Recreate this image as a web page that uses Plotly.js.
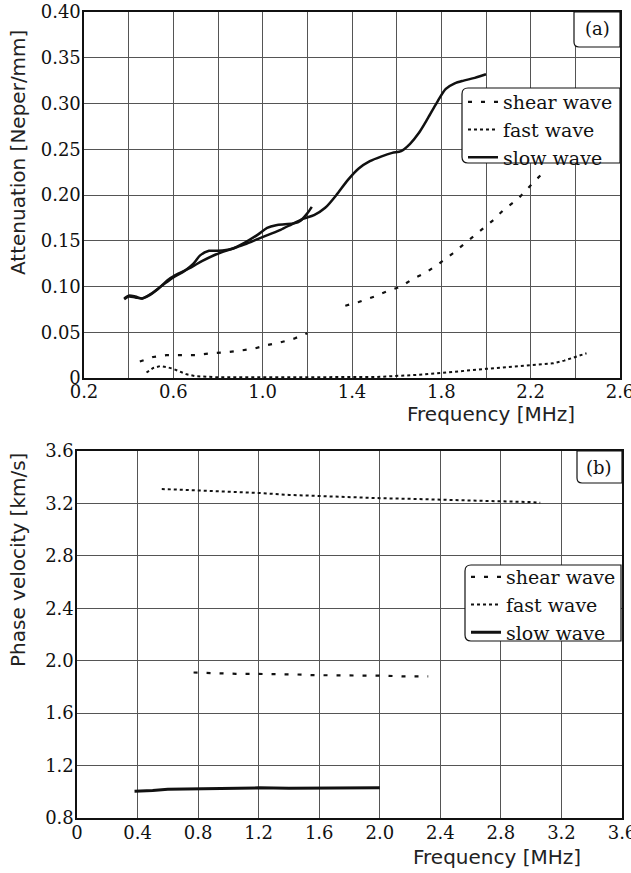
<!DOCTYPE html>
<html>
<head>
<meta charset="utf-8">
<script src="https://cdn.plot.ly/plotly-3.0.1.min.js"></script>
<style>
  html, body { margin: 0; padding: 0; background: #fff; }
  #chart { width: 631px; height: 873px; }
</style>
</head>
<body>
<div id="chart"></div>
<script>
// ---- (a) attenuation vs frequency ----
const attSlowAFreq = [0.38,0.40,0.43,0.46,0.49,0.53,0.58,0.63,0.68,0.73,0.79,0.86,0.92,0.98,1.03,1.08,1.13,1.18,1.23,1.28,1.33,1.38,1.43,1.48,1.53,1.58,1.62,1.66,1.70,1.74,1.78,1.82,1.86,1.90,1.95,2.00];
const attSlowA     = [0.087,0.090,0.089,0.087,0.090,0.097,0.108,0.115,0.121,0.128,0.135,0.141,0.146,0.152,0.157,0.162,0.168,0.174,0.178,0.186,0.200,0.216,0.229,0.237,0.242,0.246,0.248,0.256,0.268,0.284,0.301,0.316,0.322,0.325,0.328,0.332];

const attSlowBFreq = [0.38,0.40,0.43,0.46,0.50,0.55,0.60,0.65,0.69,0.72,0.76,0.80,0.86,0.92,0.98,1.02,1.06,1.10,1.14,1.17,1.20,1.22];
const attSlowB     = [0.086,0.089,0.088,0.087,0.092,0.101,0.110,0.117,0.125,0.134,0.139,0.139,0.141,0.148,0.157,0.164,0.167,0.168,0.169,0.172,0.180,0.187];

const attFastFreq = [0.48,0.51,0.54,0.57,0.60,0.63,0.66,0.70,0.75,0.80,0.90,1.00,1.10,1.20,1.30,1.40,1.50,1.60,1.70,1.80,1.90,2.00,2.10,2.20,2.30,2.35,2.40,2.45];
const attFast     = [0.006,0.011,0.013,0.012,0.010,0.007,0.004,0.002,0.001,0.0008,0.0008,0.001,0.0008,0.0008,0.0008,0.001,0.001,0.002,0.0035,0.0055,0.008,0.010,0.012,0.014,0.016,0.019,0.023,0.027];

const attShearLowFreq = [0.45,0.51,0.57,0.64,0.70,0.77,0.83,0.90,0.96,1.02,1.08,1.14,1.20];
const attShearLow     = [0.018,0.023,0.025,0.025,0.025,0.027,0.028,0.030,0.032,0.036,0.039,0.043,0.049];
const attShearHighFreq = [1.37,1.43,1.50,1.56,1.62,1.67,1.73,1.79,1.85,1.91,1.97,2.03,2.08,2.14,2.19,2.25];
const attShearHigh     = [0.079,0.083,0.089,0.095,0.100,0.108,0.115,0.125,0.136,0.148,0.160,0.172,0.184,0.195,0.208,0.223];

const attTickVals = [0,0.05,0.10,0.15,0.20,0.25,0.30,0.35,0.40];
const attTickText = ['0','0.05','0.10','0.15','0.20','0.25','0.30','0.35','0.40'];
const freqTickValsA = [0.2,0.4,0.6,0.8,1.0,1.2,1.4,1.6,1.8,2.0,2.2,2.4,2.6];
const freqTickTextA = ['0.2','','0.6','','1.0','','1.4','','1.8','','2.2','','2.6'];

// ---- (b) phase velocity vs frequency ----
const velFastFreq = [0.56,0.8,1.0,1.2,1.4,1.6,1.8,2.0,2.2,2.4,2.6,2.8,3.0,3.06];
const velFast     = [3.31,3.30,3.29,3.28,3.265,3.255,3.245,3.24,3.235,3.23,3.225,3.22,3.21,3.205];
const velShearFreq = [0.77,0.86,0.95,1.05,1.15,1.25,1.35,1.45,1.55,1.65,1.75,1.85,1.95,2.05,2.15,2.25,2.32];
const velShear     = [1.91,1.905,1.905,1.90,1.90,1.90,1.895,1.895,1.89,1.89,1.89,1.89,1.885,1.885,1.88,1.88,1.88];
const velSlowFreq = [0.38,0.5,0.6,0.8,1.0,1.2,1.4,1.6,1.8,2.0];
const velSlow     = [1.005,1.01,1.02,1.025,1.03,1.03,1.027,1.027,1.028,1.03];

const velTickVals = [0.8,1.2,1.6,2.0,2.4,2.8,3.2,3.6];
const velTickText = ['0.8','1.2','1.6','2.0','2.4','2.8','3.2','3.6'];
const freqTickValsB = [0,0.4,0.8,1.2,1.6,2.0,2.4,2.8,3.2,3.6];
const freqTickTextB = ['0','0.4','0.8','1.2','1.6','2.0','2.4','2.8','3.2','3.6'];

const seriesNames = ['shear wave','fast wave','slow wave'];

// ---- figure geometry (pixels of a 631 x 873 page) ----
const W = 631, H = 873;
const px = x => x / W;
const py = y => 1 - y / H;

const SERIF = 'DejaVu Serif, Liberation Serif, serif';
const SANS = 'DejaVu Sans, Liberation Sans, sans-serif';

const shearLine = {color: '#111', width: 2.2, dash: '4px,9px'};
const fastLine  = {color: '#111', width: 2, dash: 'dot'};
const slowLine  = {color: '#111', width: 2.5};

const traces = [
  {x: attShearLowFreq.concat([null], attShearHighFreq), y: attShearLow.concat([null], attShearHigh),
   xaxis: 'x', yaxis: 'y', mode: 'lines', line: shearLine, name: seriesNames[0], legend: 'legend', connectgaps: false},
  {x: attFastFreq, y: attFast, xaxis: 'x', yaxis: 'y', mode: 'lines', line: fastLine, name: seriesNames[1], legend: 'legend'},
  {x: attSlowAFreq, y: attSlowA, xaxis: 'x', yaxis: 'y', mode: 'lines', line: Object.assign({shape: 'spline', smoothing: 0.8}, slowLine), name: seriesNames[2], legend: 'legend'},
  {x: attSlowBFreq, y: attSlowB, xaxis: 'x', yaxis: 'y', mode: 'lines', line: Object.assign({shape: 'spline', smoothing: 0.8}, slowLine), name: seriesNames[2], showlegend: false},

  {x: velShearFreq, y: velShear, xaxis: 'x2', yaxis: 'y2', mode: 'lines', line: shearLine, name: seriesNames[0], legend: 'legend2'},
  {x: velFastFreq, y: velFast, xaxis: 'x2', yaxis: 'y2', mode: 'lines', line: fastLine, name: seriesNames[1], legend: 'legend2'},
  {x: velSlowFreq, y: velSlow, xaxis: 'x2', yaxis: 'y2', mode: 'lines', line: {color: '#111', width: 3}, name: seriesNames[2], legend: 'legend2'}
];

function axisStyle(extra) {
  return Object.assign({
    showline: true, mirror: true, linecolor: '#111', linewidth: 1.6,
    showgrid: true, gridcolor: '#555', gridwidth: 1,
    zeroline: false, ticks: '', tickmode: 'array',
    ticklabeloverflow: 'allow',
    tickfont: {family: SERIF, size: 18, color: '#111'},
    fixedrange: true
  }, extra);
}

// rounded box path in paper units; tl / bl choose which left corners are rounded
function roundedBox(x0, y0, x1, y1, r, tl, bl) {
  const X = px, Y = py;
  let p = 'M ' + X(x1) + ',' + Y(y0);
  if (tl) { p += ' L ' + X(x0 + r) + ',' + Y(y0) + ' Q ' + X(x0) + ',' + Y(y0) + ' ' + X(x0) + ',' + Y(y0 + r); }
  else    { p += ' L ' + X(x0) + ',' + Y(y0); }
  if (bl) { p += ' L ' + X(x0) + ',' + Y(y1 - r) + ' Q ' + X(x0) + ',' + Y(y1) + ' ' + X(x0 + r) + ',' + Y(y1); }
  else    { p += ' L ' + X(x0) + ',' + Y(y1); }
  p += ' L ' + X(x1) + ',' + Y(y1) + ' Z';
  return p;
}

const boxStyle = {type: 'path', xref: 'paper', yref: 'paper', fillcolor: '#fff', line: {color: '#111', width: 1.2}, layer: 'above'};

const legendStyle = {
  xref: 'paper', yref: 'paper', xanchor: 'left', yanchor: 'top',
  bgcolor: 'rgba(0,0,0,0)', borderwidth: 0,
  font: {family: SERIF, size: 19, color: '#111'},
  traceorder: 'normal', itemwidth: 30
};

const titleFont = {family: SANS, size: 20, color: '#222'};

function label(text, x, y, font, angle) {
  return {text: text, x: px(x), y: py(y), xref: 'paper', yref: 'paper',
          xanchor: 'center', yanchor: 'middle', showarrow: false,
          textangle: angle || 0, font: font};
}

const layout = {
  width: W, height: H,
  margin: {l: 0, r: 0, t: 0, b: 0},
  paper_bgcolor: '#fff', plot_bgcolor: '#fff',
  showlegend: true,
  xaxis: axisStyle({domain: [px(84), px(620)], range: [0.2, 2.6], tickvals: freqTickValsA, ticktext: freqTickTextA, anchor: 'y', ticklabelstandoff: -3}),
  yaxis: axisStyle({domain: [py(378), py(12)], range: [0, 0.40], tickvals: attTickVals, ticktext: attTickText, anchor: 'x', ticklabelstandoff: -2}),
  xaxis2: axisStyle({domain: [px(77), px(622)], range: [0, 3.6], tickvals: freqTickValsB, ticktext: freqTickTextB, anchor: 'y2', ticklabelstandoff: -2}),
  yaxis2: axisStyle({domain: [py(818), py(451)], range: [0.8, 3.6], tickvals: velTickVals, ticktext: velTickText, anchor: 'x2', ticklabelstandoff: -2}),
  legend: Object.assign({x: px(463), y: py(83)}, legendStyle),
  legend2: Object.assign({x: px(466), y: py(558)}, legendStyle),
  shapes: [
    Object.assign({path: roundedBox(462, 88, 620, 163, 6, true, true)}, boxStyle),
    Object.assign({path: roundedBox(465, 565, 621, 641, 6, true, true)}, boxStyle),
    Object.assign({path: roundedBox(574, 12, 620, 47, 5, false, true)}, boxStyle),
    Object.assign({path: roundedBox(577, 451, 622, 483, 5, false, true)}, boxStyle)
  ],
  annotations: [
    label('(a)', 597, 29, {family: SERIF, size: 18, color: '#111'}),
    label('(b)', 599, 467, {family: SERIF, size: 18, color: '#111'}),
    label('Attenuation [Neper/mm]', 18, 153, titleFont, -90),
    label('Frequency [MHz]', 491, 414, titleFont),
    label('Phase velocity [km/s]', 18, 560, titleFont, -90),
    label('Frequency [MHz]', 497, 857, titleFont)
  ]
};

Plotly.newPlot('chart', traces, layout, {displayModeBar: false, staticPlot: true});
</script>
</body>
</html>
